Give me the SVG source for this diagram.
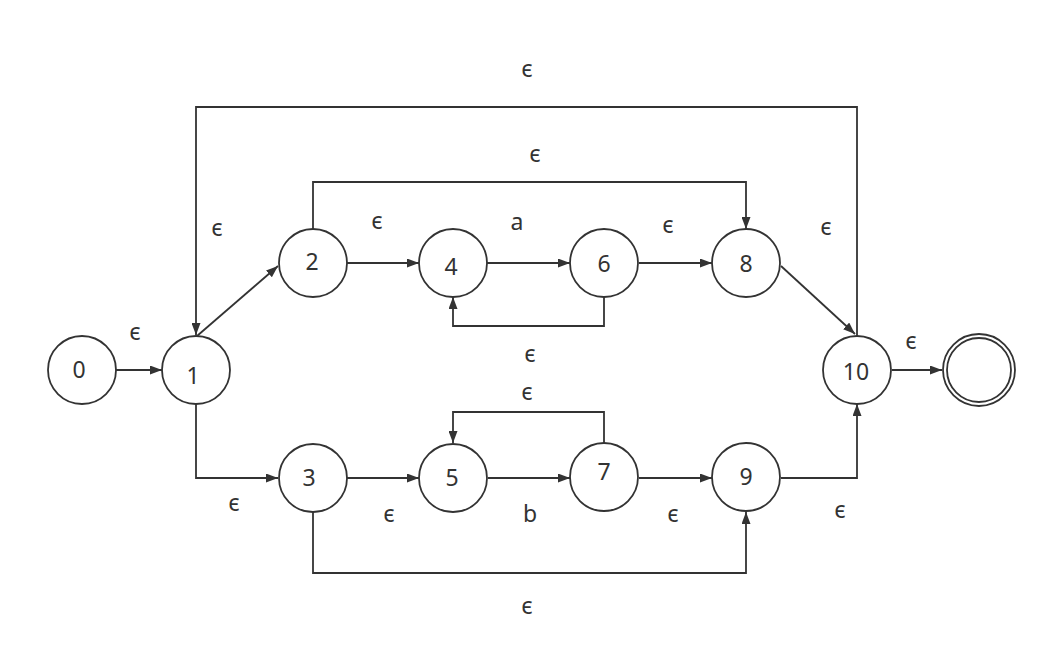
<svg xmlns="http://www.w3.org/2000/svg" width="1046" height="661" viewBox="0 0 1046 661">
<style>
.n{fill:#fff;stroke:#333;stroke-width:1.8}
.e{fill:none;stroke:#333;stroke-width:1.8}
.t{font-family:"Noto Sans","Open Sans",sans-serif;font-size:23px;fill:#333;text-anchor:middle}
</style>
<defs>
<marker id="ar" viewBox="0 0 12 9" refX="12" refY="4.5" markerWidth="12" markerHeight="9" markerUnits="userSpaceOnUse" orient="auto">
<path d="M0,0 L12,4.5 L0,9 Z" fill="#333"/>
</marker>
</defs>
<rect width="1046" height="661" fill="#fff"/>
<g id="connectors">
<path class="e" d="M116,370 L162,370" marker-end="url(#ar)"/>
<path class="e" d="M197,336 L278,266" marker-end="url(#ar)"/>
<path class="e" d="M857,336 L857,107 L196,107 L196,335" marker-end="url(#ar)"/>
<path class="e" d="M313,229 L313,182 L746,182 L746,229" marker-end="url(#ar)"/>
<path class="e" d="M347,263 L419,263" marker-end="url(#ar)"/>
<path class="e" d="M487,263 L570,263" marker-end="url(#ar)"/>
<path class="e" d="M639,263 L712,263" marker-end="url(#ar)"/>
<path class="e" d="M604,297 L604,326 L453,326 L453,297" marker-end="url(#ar)"/>
<path class="e" d="M781,266 L855,334" marker-end="url(#ar)"/>
<path class="e" d="M892,370 L942,370" marker-end="url(#ar)"/>
<path class="e" d="M196,404 L196,478 L278,478" marker-end="url(#ar)"/>
<path class="e" d="M347,478 L419,478" marker-end="url(#ar)"/>
<path class="e" d="M488,478 L570,478" marker-end="url(#ar)"/>
<path class="e" d="M604,443 L604,412 L453,412 L453,443" marker-end="url(#ar)"/>
<path class="e" d="M639,478 L712,478" marker-end="url(#ar)"/>
<path class="e" d="M313,512 L313,573 L746,573 L746,512" marker-end="url(#ar)"/>
<path class="e" d="M781,478 L857,478 L857,404" marker-end="url(#ar)"/>
</g>
<g id="labels">
<text class="t" x="527" y="77">ϵ</text>
<text class="t" x="535" y="162">ϵ</text>
<text class="t" x="217" y="236">ϵ</text>
<text class="t" x="377" y="229">ϵ</text>
<text class="t" x="517" y="230">a</text>
<text class="t" x="668" y="233">ϵ</text>
<text class="t" x="826" y="235">ϵ</text>
<text class="t" x="135" y="340">ϵ</text>
<text class="t" x="530" y="362">ϵ</text>
<text class="t" x="911" y="349">ϵ</text>
<text class="t" x="527" y="400">ϵ</text>
<text class="t" x="234" y="511">ϵ</text>
<text class="t" x="389" y="522">ϵ</text>
<text class="t" x="530" y="522">b</text>
<text class="t" x="673" y="522">ϵ</text>
<text class="t" x="840" y="518">ϵ</text>
<text class="t" x="527" y="614">ϵ</text>
</g>
<g id="n0"><circle class="n" cx="82" cy="370" r="34"/><text class="t" x="79" y="378">0</text></g>
<g id="n1"><circle class="n" cx="196" cy="370" r="34"/><text class="t" x="193" y="384">1</text></g>
<g id="n2"><circle class="n" cx="313" cy="263" r="34"/><text class="t" x="312" y="270">2</text></g>
<g id="n3"><circle class="n" cx="313" cy="478" r="34"/><text class="t" x="309" y="486">3</text></g>
<g id="n4"><circle class="n" cx="453" cy="263" r="34"/><text class="t" x="451" y="275">4</text></g>
<g id="n5"><circle class="n" cx="453" cy="478" r="34"/><text class="t" x="452" y="486">5</text></g>
<g id="n6"><circle class="n" cx="604" cy="263" r="34"/><text class="t" x="604" y="272">6</text></g>
<g id="n7"><circle class="n" cx="604" cy="477" r="34"/><text class="t" x="604" y="480">7</text></g>
<g id="n8"><circle class="n" cx="746" cy="263" r="34"/><text class="t" x="746" y="272">8</text></g>
<g id="n9"><circle class="n" cx="746" cy="477" r="34"/><text class="t" x="746" y="485">9</text></g>
<g id="n10"><circle class="n" cx="857" cy="370" r="34"/><text class="t" x="856" y="380">10</text></g>
<g id="final"><circle class="n" cx="979" cy="370" r="36"/><circle class="n" cx="979" cy="370" r="32"/></g>
</svg>
